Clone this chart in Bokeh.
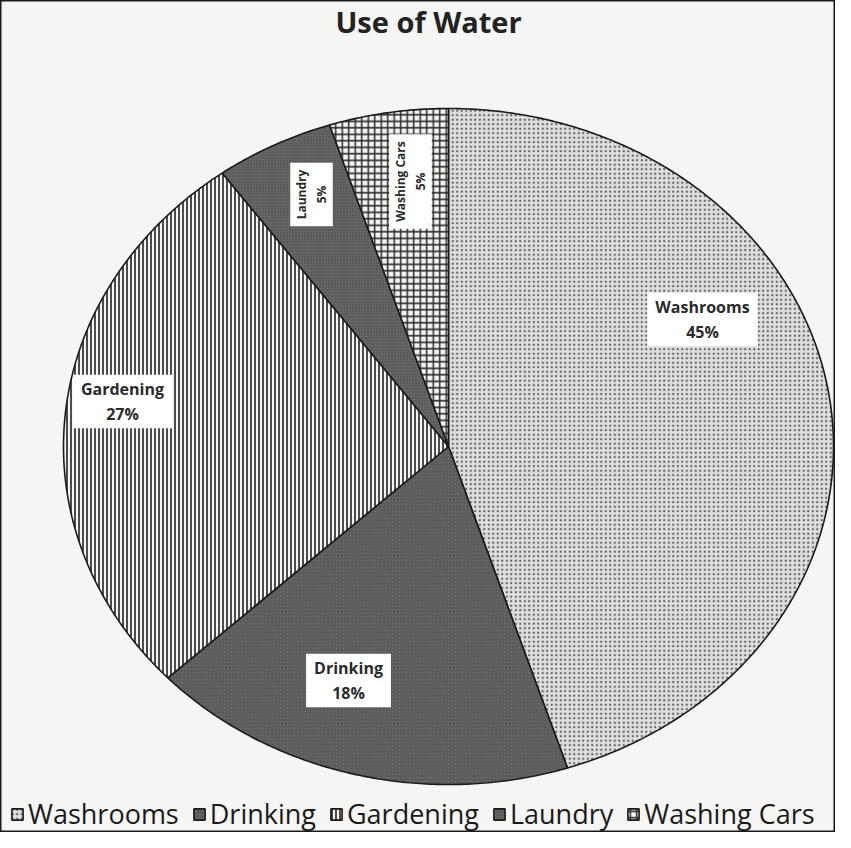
import numpy as np
from bokeh.plotting import figure
from bokeh.models import ColumnDataSource, Range1d, Legend, LegendItem
from bokeh.core.properties import value
from bokeh.embed import file_html
from bokeh.resources import INLINE

title_text = "Use of Water"
categories = ["Washrooms", "Drinking", "Gardening", "Laundry", "Washing Cars"]
percent = [45, 18, 27, 5, 5]
fill_colors = ["#dedede", "#747474", "#f4f4f2", "#666666", "#f4f4f2"]
hatch_patterns = ["dot", "right_diagonal_line", "vertical_line", "dot", "cross"]
hatch_colors = ["#5e5e5e", "#4e4e4e", "#2e2e2e", "#474747", "#2a2a2a"]
hatch_scales = [4.5, 3.5, 4.0, 3.0, 6.5]
hatch_weights = [2.6, 1.0, 1.7, 1.0, 1.5]

# label layout (positions in px inside the chart area, y downwards)
label_x = [702, 348, 122, 311, 410]
label_y = [319, 680, 401, 194, 181]
label_rot = [0, 0, 0, 1, 1]

W, H = 835, 832
cx, cy, rx, ry = 448, 446, 385, 338

frac = np.array(percent, dtype=float) / sum(percent)
ends = np.cumsum(frac) * 2 * np.pi
starts = ends - frac * 2 * np.pi
xs, ys = [], []
for s, e in zip(starts, ends):
    t = np.linspace(s, e, max(int((e - s) / (2 * np.pi) * 720), 8))
    xs.append(list(np.concatenate([[cx], cx + rx * np.sin(t), [cx]])))
    ys.append(list(np.concatenate([[cy], cy - ry * np.cos(t), [cy]])))

src = ColumnDataSource(dict(xs=xs, ys=ys, fill=fill_colors, hp=hatch_patterns,
                            hc=hatch_colors, hs=hatch_scales, hw=hatch_weights,
                            name=categories))

p = figure(width=W, height=H, output_backend="svg", toolbar_location=None,
           x_range=Range1d(0, W), y_range=Range1d(H, 0), min_border=0)
p.axis.visible = False
p.grid.visible = False
p.background_fill_color = "#f5f5f3"
p.border_fill_color = "#f5f5f3"
p.outline_line_color = "#1a1a1a"
p.outline_line_width = 2

r = p.patches("xs", "ys", source=src, fill_color="fill", hatch_pattern="hp",
              hatch_color="hc", hatch_scale="hs", hatch_weight="hw",
              line_color="#1a1a1a", line_width=1.6)

# slice labels
lbl_texts = [f"{c}\n{v}%" for c, v in zip(categories, percent)]
flat = [i for i in range(5) if label_rot[i] == 0]
rot = [i for i in range(5) if label_rot[i] == 1]
p.text(x=[label_x[i] for i in flat], y=[label_y[i] for i in flat],
       text=[lbl_texts[i] for i in flat], text_font=value("Open Sans"),
       text_font_style="bold", text_font_size="16px", text_color="#2a2a2a",
       text_align="center", text_baseline="middle", text_line_height=1.15,
       background_fill_color="white",
       padding=dict(left=8, right=8, top=3, bottom=3))
p.text(x=[label_x[i] for i in rot], y=[label_y[i] for i in rot],
       text=[lbl_texts[i] for i in rot], text_font=value("Open Sans"),
       text_font_style="bold", text_font_size="12px", text_color="#2a2a2a",
       text_align="center", text_baseline="middle", text_line_height=1.15,
       angle=np.pi / 2, background_fill_color="white",
       padding=dict(left=7, right=7, top=3, bottom=3))

# title
p.text(x=[428], y=[21], text=[title_text], text_font=value("Open Sans"),
       text_font_style="bold", text_font_size="29px", text_color="#222222",
       text_align="center", text_baseline="middle")

items = [LegendItem(label=c, renderers=[r], index=i) for i, c in enumerate(categories)]
legend = Legend(items=items, orientation="horizontal", location=(10, 0),
                label_text_font="Open Sans", label_text_font_size="27px",
                label_text_color="#1a1a1a", glyph_width=14, glyph_height=14,
                label_standoff=4, spacing=13, padding=0, margin=0,
                background_fill_alpha=0, border_line_alpha=0)
p.add_layout(legend)

open("out.html", "w").write(file_html(p, INLINE))
